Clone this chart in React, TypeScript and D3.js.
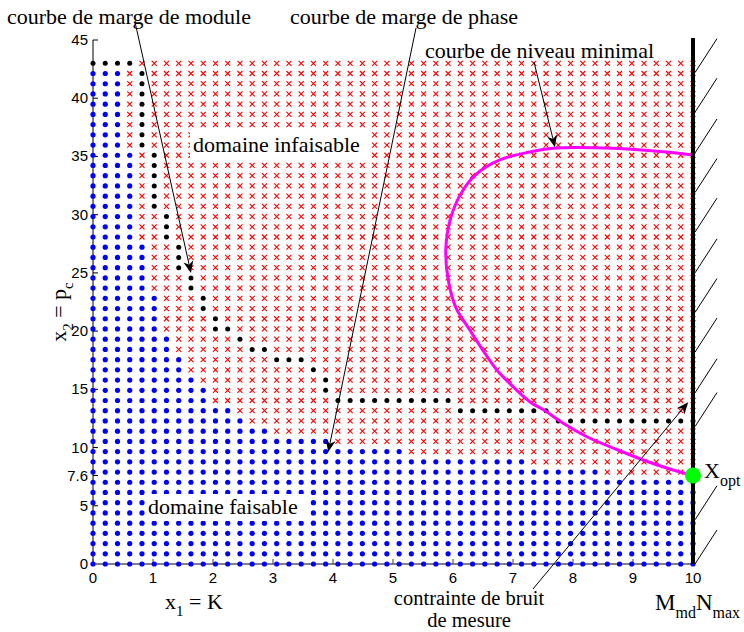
import React from 'react';
import * as d3 from 'd3';

// ---- data ----
const xTicks = [0, 1, 2, 3, 4, 5, 6, 7, 8, 9, 10];
const yTicks = [0, 5, 7.6, 10, 15, 20, 25, 30, 35, 40, 45];
const yTickLabels = ['0', '5', '7.6', '10', '15', '20', '25', '30', '35', '40', '45'];

// sampling grid of the design space (50 x 50 points)
const gridX = d3.range(50).map((i) => (i * 10) / 49);
const gridY = d3.range(50).map((j) => (j * 43) / 49);

// highest feasible (blue) row index for each column
const feasibleTop = [
  48, 48, 48, 40, 31, 26, 22, 20, 18, 17,
  15, 15, 14, 13, 13, 12, 12, 12, 12, 12,
  11, 11, 11, 11, 11, 11, 10, 10, 10, 10,
  10, 10, 10, 10, 10, 10, 9, 9, 9, 9,
  9, 9, 8, 8, 8, 8, 8, 8, 8, 8,
];

// black boundary points: [column, fromRow, toRow]
const boundaryRuns: [number, number, number][] = [
  [0, 49, 49], [1, 49, 49], [2, 49, 49], [3, 49, 49],
  [4, 41, 48], [5, 35, 40], [6, 32, 34], [7, 29, 31],
  [8, 27, 28], [9, 25, 26], [10, 23, 24], [11, 23, 23],
  [12, 22, 22], [13, 21, 21], [14, 21, 21], [15, 20, 20],
  [16, 20, 20], [17, 20, 20], [18, 19, 19], [19, 17, 18],
  [20, 16, 16], [21, 16, 16], [22, 16, 16], [23, 16, 16], [24, 16, 16],
  [25, 16, 16], [26, 16, 16], [27, 16, 16], [28, 16, 16], [29, 16, 16],
  [30, 15, 15], [31, 15, 15], [32, 15, 15], [33, 15, 15], [34, 15, 15],
  [35, 15, 15], [36, 15, 15], [37, 15, 15],
  [38, 14, 14], [39, 14, 14], [40, 14, 14], [41, 14, 14], [42, 14, 14],
  [43, 14, 14], [44, 14, 14], [45, 14, 14], [46, 14, 14], [47, 14, 14],
  [48, 14, 14], [49, 14, 14],
];

// minimal level curve
const levelX = [10, 9.5, 8.67, 7.67, 7.28, 6.78, 6.37, 6.12, 5.95, 5.88, 5.92, 6.05, 6.28, 6.48, 6.73, 7.0, 7.28, 7.56, 7.83, 8.23, 8.75, 9.17, 9.56, 10];
const levelY = [35.13, 35.41, 35.7, 35.7, 35.38, 34.7, 33.4, 31.7, 29.5, 27.0, 24.4, 22.0, 20.1, 18.5, 16.66, 15.23, 13.94, 13.08, 12.1, 10.93, 9.79, 8.93, 8.24, 7.6];

const xOpt = [10, 7.6];

// hatch marks along x = 10 (start heights)
const hatchY = [42.2, 38.8, 35.3, 31.9, 28.5, 25.0, 21.6, 18.2, 14.7, 11.8, 3.8, 0];

export default function App() {
  const W = 744;
  const H = 632;
  const x = d3.scaleLinear().domain([0, 10]).range([93, 693]);
  const y = d3.scaleLinear().domain([0, 45]).range([564, 40]);

  const blackSet = new Set<string>();
  boundaryRuns.forEach(([c, a, b]) => {
    for (let r = a; r <= b; r++) blackSet.add(c + ',' + r);
  });

  const reds: JSX.Element[] = [];
  const blues: JSX.Element[] = [];
  const blacks: JSX.Element[] = [];
  gridX.forEach((gx, i) => {
    gridY.forEach((gy, j) => {
      const cx = x(gx);
      const cy = y(gy);
      const key = i + ',' + j;
      if (blackSet.has(key)) {
        blacks.push(<circle key={key} cx={cx} cy={cy} r={2.5} fill="#000" />);
      } else if (j <= feasibleTop[i]) {
        blues.push(<circle key={key} cx={cx} cy={cy} r={2.6} fill="#0000ff" />);
      } else {
        const s = 2.5;
        reds.push(
          <path key={key} d={`M${cx - s},${cy - s}L${cx + s},${cy + s}M${cx - s},${cy + s}L${cx + s},${cy - s}`} stroke="#ff0000" strokeWidth={1.1} />
        );
      }
    });
  });

  const line = d3
    .line<number>()
    .x((d, i) => x(levelX[i]))
    .y((d, i) => y(levelY[i]))
    .curve(d3.curveCatmullRom.alpha(0.5));

  const serif = '"Liberation Serif", "Times New Roman", serif';
  const sans = '"Liberation Sans", Arial, sans-serif';

  const arrow = (x1: number, y1: number, x2: number, y2: number, k: string) => {
    const ang = Math.atan2(y2 - y1, x2 - x1);
    const L = 12;
    const Wd = 5;
    const bx = x2 - L * Math.cos(ang);
    const by = y2 - L * Math.sin(ang);
    const nx = -Math.sin(ang);
    const ny = Math.cos(ang);
    const mx = x2 - L * 0.7 * Math.cos(ang);
    const my = y2 - L * 0.7 * Math.sin(ang);
    return (
      <g key={k}>
        <line x1={x1} y1={y1} x2={mx} y2={my} stroke="#000" strokeWidth={1} />
        <path d={`M${x2},${y2}L${bx + nx * Wd},${by + ny * Wd}L${mx},${my}L${bx - nx * Wd},${by - ny * Wd}Z`} fill="#000" />
      </g>
    );
  };

  return (
    <svg width={W} height={H} style={{ position: 'absolute', left: 0, top: 0, background: '#fff' }}>
      <rect width={W} height={H} fill="#fff" />
      {/* axes */}
      <line x1={93} y1={y(45)} x2={93} y2={564} stroke="#000" strokeWidth={1} />
      {yTicks.map((t, i) => (
        <g key={'yt' + i}>
          <line x1={93} x2={98} y1={y(t)} y2={y(t)} stroke="#000" />
          <text x={88} y={y(t) + 5} textAnchor="end" fontFamily={sans} fontSize={15}>
            {yTickLabels[i]}
          </text>
        </g>
      ))}
      <line x1={93} y1={564} x2={693} y2={564} stroke="#808080" strokeWidth={2} />
      {xTicks.map((t) => (
        <g key={'xt' + t}>
          <line x1={x(t)} x2={x(t)} y1={564} y2={559} stroke="#404040" />
          <text x={x(t)} y={583} textAnchor="middle" fontFamily={sans} fontSize={15}>
            {t}
          </text>
        </g>
      ))}

      {reds}
      {blues}
      {blacks}

      <path d={line(levelX) || ''} fill="none" stroke="#ff00ff" strokeWidth={3} />

      {/* noise constraint */}
      <line x1={x(10)} x2={x(10)} y1={38} y2={564} stroke="#000" strokeWidth={4} />
      {hatchY.map((h, i) => (
        <line key={'h' + i} x1={x(10) + 2} y1={y(h)} x2={x(10) + 24} y2={y(h) - 34} stroke="#000" strokeWidth={1} />
      ))}
      <circle cx={x(xOpt[0])} cy={y(xOpt[1])} r={8} fill="#00ff00" />

      {/* white boxes behind in-plot labels */}
      <rect x={190} y={131} width={182} height={27} fill="#fff" />
      <rect x={145} y={494} width={163} height={27} fill="#fff" />

      {/* annotations */}
      {arrow(135, 22, x(1.633), y(24.99), 'a1')}
      {arrow(416, 28, x(3.92), y(9.62), 'a2')}
      {arrow(534, 62, x(7.7), y(35.8), 'a3')}
      {arrow(533, 589, x(9.92), y(13.9), 'a4')}

      <g fontFamily={serif} fontSize={22} fill="#000">
        <text x={7} y={24}>courbe de marge de module</text>
        <text x={290} y={24}>courbe de marge de phase</text>
        <text x={425} y={58}>courbe de niveau minimal</text>
        <text x={193} y={152}>domaine infaisable</text>
        <text x={148} y={514}>domaine faisable</text>
        <text x={469} y={604.5} textAnchor="middle" fontSize={20.5}>contrainte de bruit</text>
        <text x={469} y={626.5} textAnchor="middle" fontSize={20.5}>de mesure</text>
        <text x={165} y={609}>
          x<tspan fontSize={15} dy={7}>1</tspan>
          <tspan dy={-7}> = K</tspan>
        </text>
        <text x={655} y={610} fontSize={23}>
          M<tspan fontSize={16} dy={8}>md</tspan>
          <tspan dy={-8}>N</tspan>
          <tspan fontSize={16} dy={8}>max</tspan>
        </text>
        <text x={704} y={478}>
          X<tspan fontSize={16} dy={8}>opt</tspan>
        </text>
        <text transform="translate(66,312) rotate(-90)" textAnchor="middle">
          x<tspan fontSize={15} dy={7}>2</tspan>
          <tspan dy={-7}> = p</tspan>
          <tspan fontSize={15} dy={7}>c</tspan>
        </text>
      </g>
    </svg>
  );
}
